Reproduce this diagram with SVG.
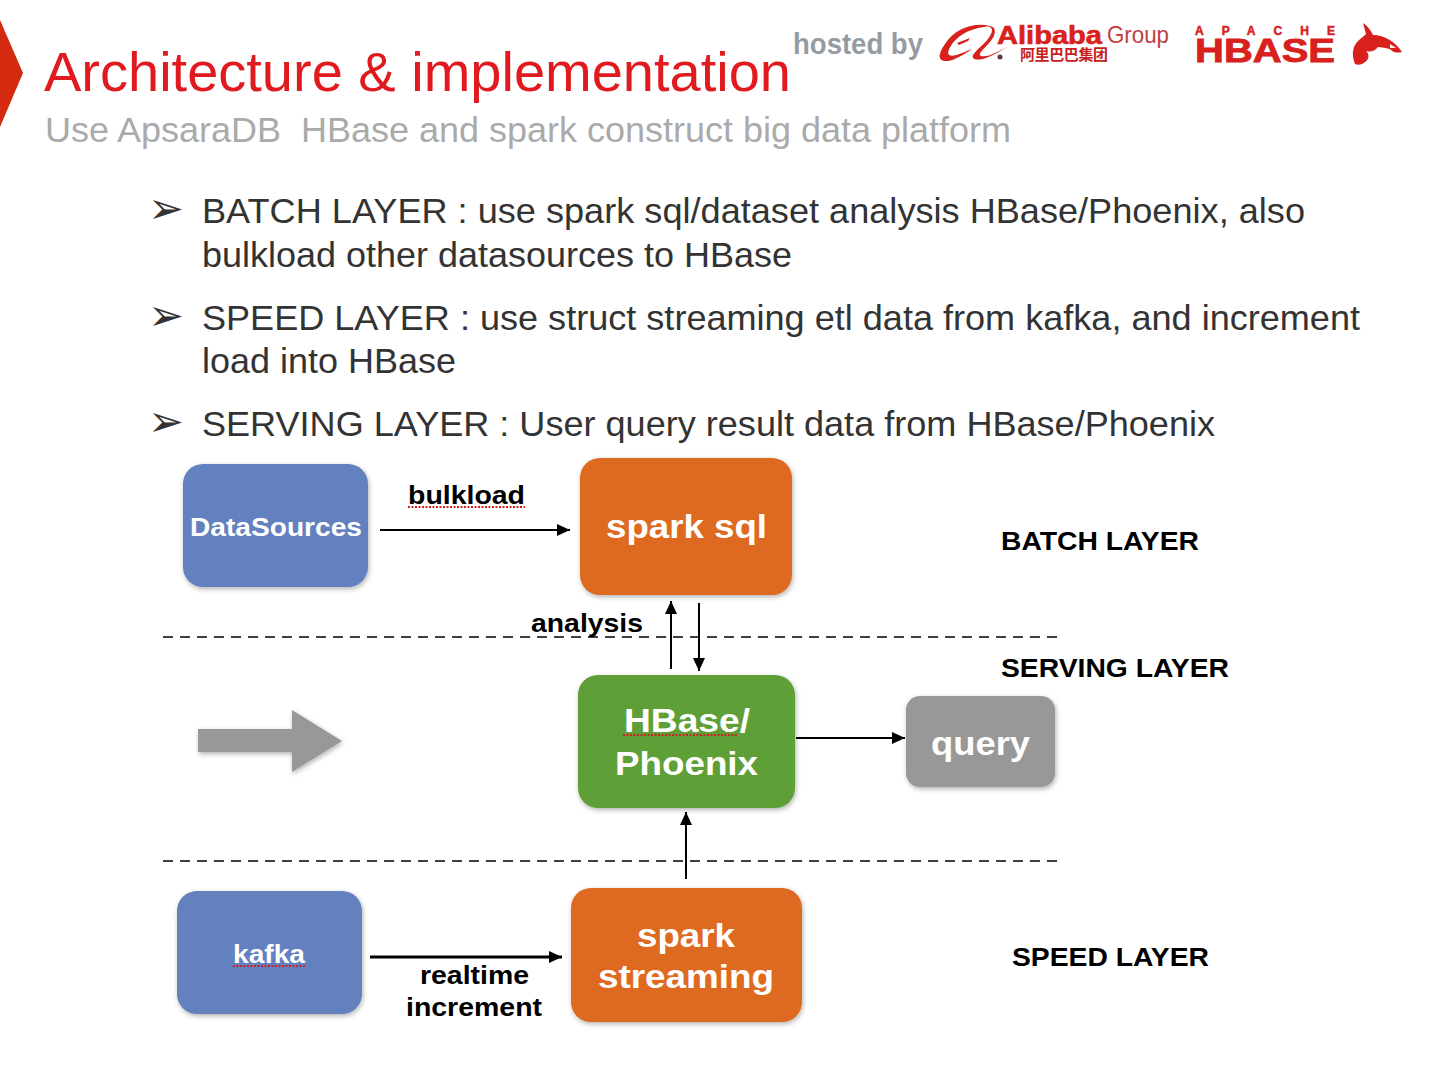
<svg xmlns="http://www.w3.org/2000/svg" width="1440" height="1080" viewBox="0 0 1440 1080">
<defs>
<style>
text{font-family:"Liberation Sans",Arial,sans-serif}
.b{font-size:34.5px;fill:#333}
.g{font-size:43px;fill:#333;font-family:"DejaVu Sans",sans-serif}
.nt{fill:#fff;font-weight:bold}
.l{fill:#000;font-weight:bold;font-size:26.5px}
.c{fill:none;stroke:#000;stroke-width:2}
.t{stroke-width:3}
.d{fill:none;stroke:#000;stroke-width:1.6;stroke-dasharray:10 7}
.sq{fill:none;stroke:#d02020;stroke-width:2;stroke-dasharray:2 1.5}
.r{fill:#d8201c}
</style>
<filter id="s" x="-10%" y="-10%" width="120%" height="120%"><feDropShadow dx="1" dy="2" stdDeviation="2.5" flood-color="#000" flood-opacity=".3"/></filter>
<marker id="a" markerUnits="userSpaceOnUse" markerWidth="14" markerHeight="12" refX="13" refY="6" orient="auto"><path d="M0 0L13 6L0 12Z" fill="#000"/></marker>
</defs>
<rect width="1440" height="1080" fill="#fff"/>
<path d="M0 20L23 73L0 127Z" fill="#d32a10"/>
<text x="44" y="91" font-size="56" fill="#e01a1f">Architecture &amp; implementation</text>
<text x="45" y="142" font-size="35.5" fill="#aaa" xml:space="preserve" textLength="966" lengthAdjust="spacingAndGlyphs">Use ApsaraDB  HBase and spark construct big data platform</text>
<g id="logos">
<text x="793" y="54" font-size="29" font-weight="bold" fill="#959ba3" textLength="130" lengthAdjust="spacingAndGlyphs">hosted by</text>
<path class="r" d="M990 26C975 22 955 28 945 44C938 54 937 62 948 61C955 60 965 54 972 49C964 52 953 58 949 55C946 52 952 42 960 36C968 30 980 27 990 26Z"/>
<path class="r" d="M957 43L970 38L968 41L959 45Z"/>
<path class="r" d="M984 27C992 25 994 30 990 36C986 43 978 48 973 55C971 60 978 61 986 58C994 55 1002 50 1008 47C998 51 988 58 981 56C977 54 985 48 990 42C996 35 997 27 990 26Z"/>
<circle cx="1000" cy="57" r="2.500" fill="#633"/>
<text x="997" y="44" font-size="25" font-weight="bold" fill="#d8201c" stroke="#d8201c" stroke-width=".6" textLength="105" lengthAdjust="spacingAndGlyphs">Alibaba</text>
<text x="1107" y="43" font-size="24" fill="#c04040" textLength="62" lengthAdjust="spacingAndGlyphs">Group</text>
<text x="1020" y="60" font-size="15" font-weight="bold" fill="#c82020" style="font-family:'Noto Sans CJK SC',sans-serif" textLength="88">阿里巴巴集团</text>
<text x="1195" y="35" font-size="12" fill="#d8201c" font-weight="bold" stroke="#d8201c" stroke-width=".5" textLength="140">APACHE</text>
<text x="1195" y="62" font-size="33" font-weight="bold" fill="#d8201c" stroke="#d8201c" stroke-width=".8" textLength="140" lengthAdjust="spacingAndGlyphs">HBASE</text>
<path class="r" d="M1355 64C1351 54 1353 46 1358 41C1361 38 1364 36 1366 34L1363 23C1368 26 1371 31 1373 35C1384 35 1396 42 1402 52C1398 53 1394 53 1391 50C1389 48 1384 48 1378 47C1374 52 1370 52 1366 51C1371 56 1368 61 1362 64C1360 65 1357 65 1355 64Z"/>
<path d="M1390 44L1396 48L1390 48Z" fill="#fff"/>
</g>
<g id="bullets">
<text class="g" x="148" y="223">➢</text>
<text class="b" x="202" y="223" textLength="1103" lengthAdjust="spacingAndGlyphs">BATCH LAYER : use spark sql/dataset analysis HBase/Phoenix, also</text>
<text class="b" x="202" y="267" textLength="590" lengthAdjust="spacingAndGlyphs">bulkload other datasources to HBase</text>
<text class="g" x="148" y="330">➢</text>
<text class="b" x="202" y="330" textLength="1158" lengthAdjust="spacingAndGlyphs">SPEED LAYER : use struct streaming etl data from kafka, and increment</text>
<text class="b" x="202" y="373" textLength="254" lengthAdjust="spacingAndGlyphs">load into HBase</text>
<text class="g" x="148" y="436">➢</text>
<text class="b" x="202" y="436" textLength="1013" lengthAdjust="spacingAndGlyphs">SERVING LAYER : User query result data from HBase/Phoenix</text>
</g>
<g id="connectors">
<line class="d" x1="163" y1="637" x2="1062" y2="637"/>
<line class="d" x1="163" y1="861" x2="1062" y2="861"/>
<line class="c" x1="380" y1="530" x2="570" y2="530" marker-end="url(#a)"/>
<line class="c" x1="671" y1="669" x2="671" y2="601" marker-end="url(#a)"/>
<line class="c" x1="699" y1="603" x2="699" y2="671" marker-end="url(#a)"/>
<line class="c" x1="796" y1="738" x2="905" y2="738" marker-end="url(#a)"/>
<line class="c" x1="686" y1="879" x2="686" y2="812" marker-end="url(#a)"/>
<line class="c t" x1="370" y1="957" x2="562" y2="957" marker-end="url(#a)"/>
</g>
<g id="datasources"><rect x="183" y="464" width="185" height="123" rx="20" fill="#6480bf" filter="url(#s)"/><text class="nt" x="190" y="536" font-size="26.500" textLength="172" lengthAdjust="spacingAndGlyphs">DataSources</text></g>
<g id="spark-sql"><rect x="580" y="458" width="212" height="137" rx="20" fill="#de6a22" filter="url(#s)"/><text class="nt" x="606" y="538" font-size="33" textLength="161" lengthAdjust="spacingAndGlyphs">spark sql</text></g>
<g id="hbase-phoenix"><rect x="578" y="675" width="217" height="133" rx="20" fill="#5f9f38" filter="url(#s)"/><text class="nt" x="624" y="732" font-size="33" textLength="126" lengthAdjust="spacingAndGlyphs">HBase/</text><text class="nt" x="615" y="775" font-size="33" textLength="143" lengthAdjust="spacingAndGlyphs">Phoenix</text><line class="sq" x1="623" y1="735" x2="738" y2="735"/></g>
<g id="query"><rect x="906" y="696" width="149" height="91" rx="14" fill="#989898" filter="url(#s)"/><text class="nt" x="931" y="755" font-size="33" textLength="99" lengthAdjust="spacingAndGlyphs">query</text></g>
<g id="kafka"><rect x="177" y="891" width="185" height="123" rx="20" fill="#6480bf" filter="url(#s)"/><text class="nt" x="233" y="963" font-size="26.500" textLength="72" lengthAdjust="spacingAndGlyphs">kafka</text><line class="sq" x1="233" y1="966" x2="305" y2="966"/></g>
<g id="spark-streaming"><rect x="571" y="888" width="231" height="134" rx="20" fill="#de6a22" filter="url(#s)"/><text class="nt" x="637" y="947" font-size="33" textLength="98" lengthAdjust="spacingAndGlyphs">spark</text><text class="nt" x="598" y="988" font-size="33" textLength="176" lengthAdjust="spacingAndGlyphs">streaming</text></g>
<g id="big-arrow"><path d="M198 729H292V710L342 741L292 772V752H198Z" fill="#989898" filter="url(#s)"/></g>
<g id="labels">
<text class="l" x="408" y="504" textLength="117" lengthAdjust="spacingAndGlyphs">bulkload</text><line class="sq" x1="408" y1="507" x2="525" y2="507"/>
<text class="l" x="531" y="632" textLength="112" lengthAdjust="spacingAndGlyphs">analysis</text>
<text class="l" x="420" y="984" textLength="109" lengthAdjust="spacingAndGlyphs">realtime</text>
<text class="l" x="406" y="1016" textLength="136" lengthAdjust="spacingAndGlyphs">increment</text>
<text class="l" x="1001" y="550" textLength="198" lengthAdjust="spacingAndGlyphs">BATCH LAYER</text>
<text class="l" x="1001" y="677" textLength="228" lengthAdjust="spacingAndGlyphs">SERVING LAYER</text>
<text class="l" x="1012" y="966" textLength="197" lengthAdjust="spacingAndGlyphs">SPEED LAYER</text>
</g>
</svg>
